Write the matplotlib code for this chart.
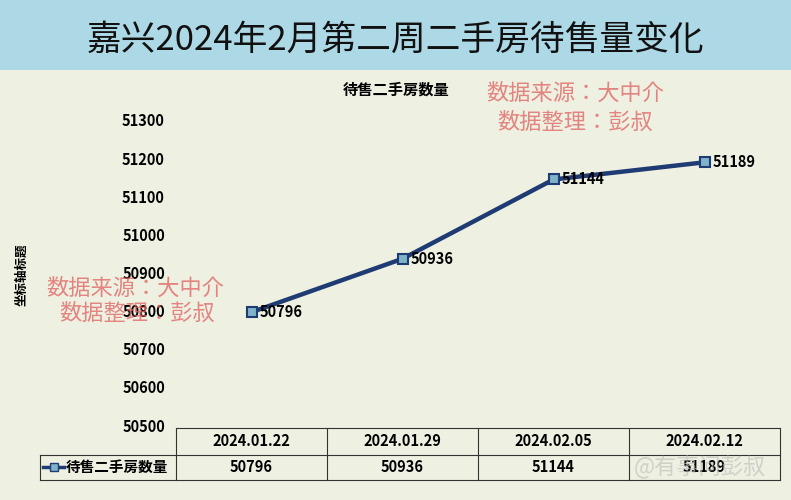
import matplotlib
matplotlib.use("Agg")
from matplotlib import pyplot as plt
from matplotlib import font_manager
from matplotlib.patches import Rectangle

# find an installed CJK font
cjk = [f for f in font_manager.fontManager.ttflist if 'CJK' in f.name]
fam = None
for pref in ['Noto Sans CJK SC', 'Noto Sans CJK JP', 'Noto Sans CJK TC', 'Noto Sans CJK KR']:
    if any(f.name == pref for f in cjk):
        fam = pref
        break
if fam is None and cjk:
    fam = cjk[0].name
if fam is None:
    import glob
    files = glob.glob('/usr/share/fonts/**/*CJK*', recursive=True)
    for p in files:
        font_manager.fontManager.addfont(p)
    cjk = [f for f in font_manager.fontManager.ttflist if 'CJK' in f.name]
    fam = cjk[0].name if cjk else 'DejaVu Sans'
plt.rcParams['font.family'] = [fam, 'DejaVu Sans']

dates = ['2024.01.22', '2024.01.29', '2024.02.05', '2024.02.12']
values = [50796, 50936, 51144, 51189]
yticks = [50500, 50600, 50700, 50800, 50900, 51000, 51100, 51200, 51300]
series_name = '待售二手房数量'

W, H = 791, 500
fig = plt.figure(figsize=(W / 100, H / 100), dpi=100)
fig.patch.set_facecolor('#eef0e1')

def fx(px):
    return px / W

def fy(py):
    return 1 - py / H

# title band
fig.patches.append(Rectangle((0, fy(70)), 1, 70 / H, transform=fig.transFigure,
                             facecolor='#add8e6', edgecolor='none'))
fig.text(0.5, fy(40), '嘉兴2024年2月第二周二手房待售量变化', ha='center', va='center',
         fontsize=25, color='#111111')

# plot area
x0, x1, ytop, ybot = 176, 780, 120, 425
ax = fig.add_axes([fx(x0), fy(ybot), fx(x1 - x0), (ybot - ytop) / H])
ax.set_facecolor('none')
for s in ax.spines.values():
    s.set_visible(False)
ax.set_xlim(-0.5, 3.5)
ax.set_ylim(50500, 51300)
ax.set_yticks(yticks)
ax.set_yticklabels([str(v) for v in yticks], fontsize=10.5, fontweight='bold')
ax.tick_params(axis='y', length=0, pad=8)
ax.set_xticks([])
xs = range(len(values))
ax.plot(xs, values, color='#1f3b73', lw=3.2, marker='s', ms=7,
        mfc='#7fb3c8', mec='#1f3b73', mew=1.5, clip_on=False, zorder=3)
for x, v in zip(xs, values):
    ax.annotate(str(v), (x, v), xytext=(6, 0), textcoords='offset points',
                ha='left', va='center', fontsize=10.5, fontweight='bold')

fig.text(fx(396), fy(90), '待售二手房数量', ha='center', va='center', fontsize=11, fontweight='bold')
fig.text(fx(22), fy(275), '坐标轴标题', ha='center', va='center', rotation=90,
         fontsize=9, fontweight='bold')

# data table
col_w = (x1 - x0) / 4
r0, r1, r2 = 428, 455, 480
lc = '#333333'
def hline(y, xa, xb):
    fig.add_artist(plt.Line2D([fx(xa), fx(xb)], [fy(y), fy(y)], color=lc, lw=0.8))
def vline(x, ya, yb):
    fig.add_artist(plt.Line2D([fx(x), fx(x)], [fy(ya), fy(yb)], color=lc, lw=0.8))
hline(r0, x0, x1)
hline(r1, 40, x1)
hline(r2, 40, x1)
vline(40, r1, r2)
for i in range(5):
    vline(x0 + i * col_w, r0, r2)
for i, (d, v) in enumerate(zip(dates, values)):
    cx = x0 + (i + 0.5) * col_w
    fig.text(fx(cx), fy((r0 + r1) / 2), d, ha='center', va='center', fontsize=10.5, fontweight='bold')
    fig.text(fx(cx), fy((r1 + r2) / 2), str(v), ha='center', va='center', fontsize=10.5, fontweight='bold')
fig.add_artist(plt.Line2D([fx(43), fx(64)], [fy(467), fy(467)], color='#1f3b73', lw=2.5))
fig.add_artist(plt.Line2D([fx(53.5)], [fy(467)], color='#1f3b73', marker='s', ms=6,
                          mfc='#7fb3c8', mec='#1f3b73', lw=0))
fig.text(fx(66), fy(467), series_name, ha='left', va='center', fontsize=10.5, fontweight='bold')

# watermarks
wm = dict(color='#e06060', alpha=0.75, fontsize=16, ha='center', va='center')
fig.text(fx(575), fy(93), '数据来源：大中介', **wm)
fig.text(fx(575), fy(122), '数据整理：彭叔', **wm)
fig.text(fx(135), fy(288), '数据来源：大中介', **wm)
fig.text(fx(137), fy(313), '数据整理：彭叔', **wm)
fig.text(fx(700), fy(467), '@有事问彭叔', color='#bbbbbb', alpha=0.6, fontsize=16,
         ha='center', va='center')

fig.savefig('out.png', dpi=100, facecolor=fig.get_facecolor())
